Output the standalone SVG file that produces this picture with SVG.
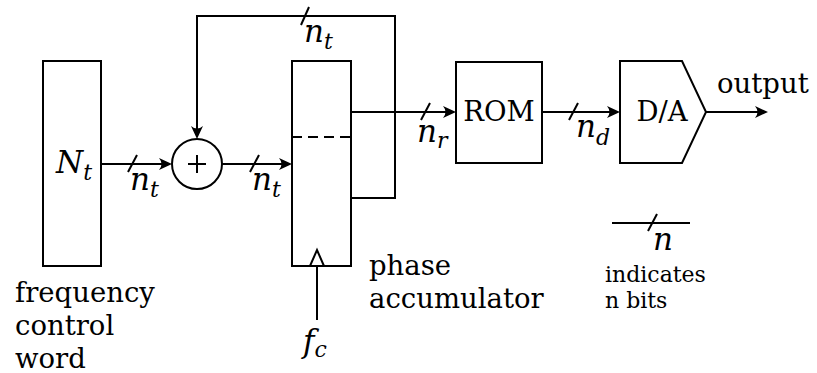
<svg xmlns="http://www.w3.org/2000/svg" width="817" height="373" viewBox="0 0 817 373">
<defs>
<marker id="arr" markerUnits="userSpaceOnUse" markerWidth="20" markerHeight="20" refX="0" refY="0" orient="auto" overflow="visible">
<path d="M3,0 L-10,-6 Q-5,0 -10,6 Z" fill="#000"/>
</marker>
<style>
.ln{stroke:#000;stroke-width:2;fill:none}
.bx{stroke:#000;stroke-width:2;fill:#fff}
.tx{font-family:"DejaVu Serif",serif;font-size:27.5px;fill:#000}
.sm{font-family:"DejaVu Serif",serif;font-size:22px;fill:#000}
.mi{font-family:"DejaVu Serif",serif;font-style:italic;font-size:31px;fill:#000}
.sub{font-size:22px}
</style>
</defs>
<rect width="817" height="373" fill="#fff"/>
<g id="connectors">
<line class="ln" x1="101" y1="164" x2="169" y2="164" marker-end="url(#arr)"/>
<line class="ln" x1="222" y1="164" x2="289" y2="164" marker-end="url(#arr)"/>
<polyline class="ln" points="351,198 395,198 395,16 197,16 197,136" marker-end="url(#arr)"/>
<line class="ln" x1="351" y1="112" x2="453" y2="112" marker-end="url(#arr)"/>
<line class="ln" x1="542" y1="112" x2="617" y2="112" marker-end="url(#arr)"/>
<line class="ln" x1="706" y1="112" x2="765" y2="112" marker-end="url(#arr)"/>
<line class="ln" x1="317" y1="320" x2="317" y2="266"/>
<line class="ln" x1="128" y1="172" x2="137" y2="155"/>
<line class="ln" x1="250" y1="172" x2="259" y2="155"/>
<line class="ln" x1="301" y1="25" x2="309" y2="7"/>
<line class="ln" x1="421" y1="120" x2="430" y2="103"/>
<line class="ln" x1="569" y1="120" x2="578" y2="103"/>
<line class="ln" x1="612" y1="223" x2="690" y2="223"/>
<line class="ln" x1="648" y1="231" x2="657" y2="214"/>
</g>
<g id="freq-word">
<rect class="bx" x="43" y="61" width="58" height="205"/>
<text class="mi" x="56" y="173">N<tspan class="sub" dy="7">t</tspan></text>
<text class="tx" x="15" y="302">frequency</text>
<text class="tx" x="15" y="335">control</text>
<text class="tx" x="15" y="368">word</text>
</g>
<g id="adder">
<circle class="bx" cx="197" cy="164" r="25"/>
<line class="ln" x1="188" y1="164" x2="206" y2="164"/>
<line class="ln" x1="197" y1="155" x2="197" y2="173"/>
</g>
<g id="accumulator">
<rect class="bx" x="292" y="61" width="59" height="205"/>
<line class="ln" x1="292" y1="137" x2="353" y2="137" stroke-dasharray="10,6"/>
<polyline class="ln" points="310,266 317,250 324,266"/>
<text class="tx" x="369" y="275">phase</text>
<text class="tx" x="369" y="308">accumulator</text>
</g>
<g id="rom">
<rect class="bx" x="456" y="62" width="86" height="101"/>
<text class="tx" x="499" y="121" text-anchor="middle">ROM</text>
</g>
<g id="da">
<polygon class="bx" points="620,61 682,61 706,112 682,163 620,163"/>
<text class="tx" x="662" y="121" text-anchor="middle">D/A</text>
</g>
<g id="labels">
<text class="tx" x="717" y="93">output</text>
<text class="mi" x="130" y="190">n<tspan class="sub" dy="7">t</tspan></text>
<text class="mi" x="252" y="190">n<tspan class="sub" dy="7">t</tspan></text>
<text class="mi" x="304" y="42">n<tspan class="sub" dy="7">t</tspan></text>
<text class="mi" x="417" y="142">n<tspan class="sub" dy="6">r</tspan></text>
<text class="mi" x="576" y="137">n<tspan class="sub" dy="8">d</tspan></text>
<text class="mi" x="303" y="352">f<tspan class="sub" dy="5">c</tspan></text>
<text class="mi" x="653" y="250">n</text>
<text class="sm" x="605" y="282">indicates</text>
<text class="sm" x="605" y="308">n bits</text>
</g>
</svg>
